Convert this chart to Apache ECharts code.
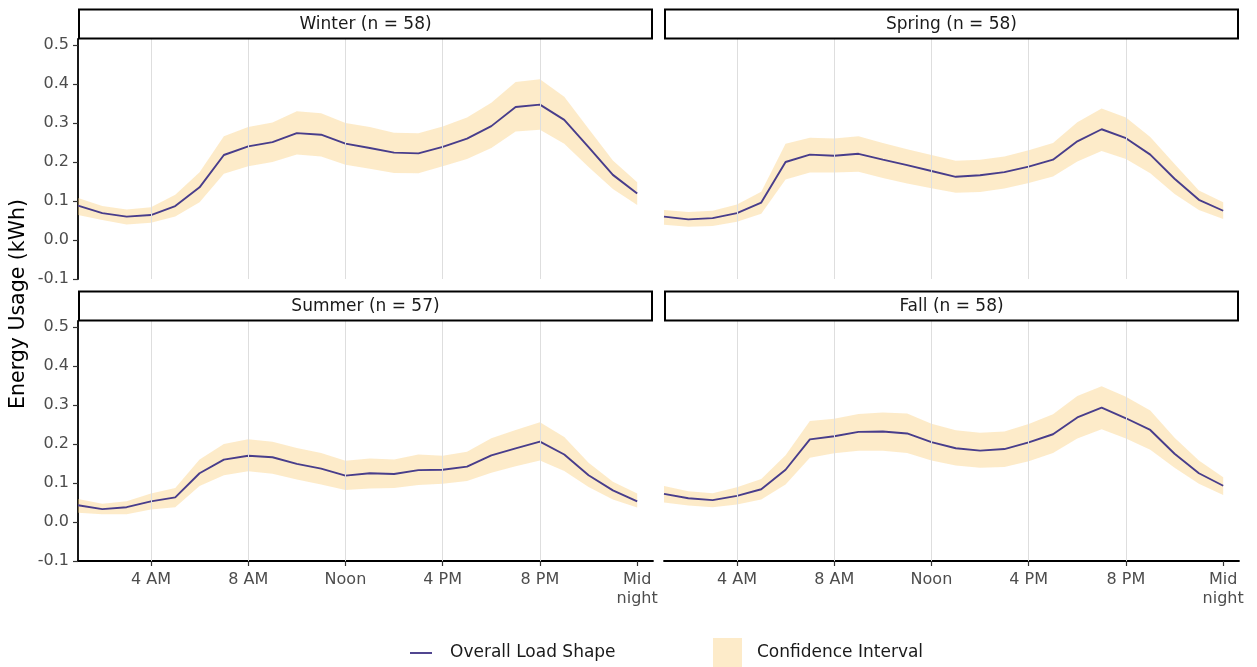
<!DOCTYPE html>
<html>
<head>
<meta charset="utf-8">
<title>Seasonal Load Shapes</title>
<script src="https://cdn.jsdelivr.net/npm/echarts@6/dist/echarts.min.js"></script>
<style>
  html, body { margin: 0; padding: 0; background: #ffffff; }
  #chart { width: 1257px; height: 667px; }
</style>
</head>
<body>
<div id="chart"></div>
<script>
// Hour of day (1 = 1 AM ... 24 = midnight)
const hours = [1,2,3,4,5,6,7,8,9,10,11,12,13,14,15,16,17,18,19,20,21,22,23,24];

const hourTicks = [4, 8, 12, 16, 20, 24];
const hourTickLabels = ['4 AM', '8 AM', 'Noon', '4 PM', '8 PM', 'Mid\nnight'];
const usageTicks = [-0.1, 0.0, 0.1, 0.2, 0.3, 0.4, 0.5];

const panelTitles = ['Winter (n = 58)', 'Spring (n = 58)', 'Summer (n = 57)', 'Fall (n = 58)'];

// Mean hourly usage (kWh) with confidence bounds, per season
const winterMean  = [0.088,0.069,0.060,0.064,0.087,0.135,0.218,0.240,0.251,0.274,0.270,0.247,0.236,0.224,0.222,0.239,0.260,0.292,0.341,0.347,0.308,0.238,0.167,0.119];
const winterUpper = [0.108,0.087,0.078,0.084,0.116,0.174,0.266,0.290,0.301,0.330,0.325,0.300,0.290,0.275,0.274,0.291,0.314,0.352,0.405,0.412,0.367,0.285,0.204,0.148];
const winterLower = [0.064,0.051,0.040,0.044,0.060,0.097,0.170,0.189,0.200,0.219,0.214,0.193,0.183,0.172,0.171,0.189,0.208,0.236,0.278,0.283,0.247,0.187,0.131,0.090];

const springMean  = [0.060,0.053,0.056,0.069,0.096,0.200,0.219,0.216,0.221,0.206,0.192,0.177,0.162,0.166,0.174,0.188,0.206,0.253,0.284,0.261,0.219,0.157,0.103,0.075];
const springUpper = [0.077,0.072,0.075,0.091,0.124,0.247,0.262,0.260,0.266,0.249,0.233,0.218,0.203,0.206,0.214,0.230,0.249,0.302,0.337,0.314,0.264,0.195,0.127,0.097];
const springLower = [0.039,0.034,0.036,0.047,0.067,0.155,0.173,0.173,0.175,0.159,0.145,0.133,0.121,0.123,0.132,0.146,0.163,0.201,0.228,0.208,0.171,0.118,0.077,0.054];

const summerMean  = [0.043,0.033,0.038,0.053,0.063,0.125,0.160,0.170,0.166,0.149,0.137,0.119,0.125,0.123,0.133,0.134,0.142,0.171,0.189,0.206,0.173,0.120,0.081,0.053];
const summerUpper = [0.059,0.047,0.053,0.073,0.087,0.160,0.200,0.212,0.206,0.190,0.177,0.157,0.163,0.160,0.173,0.170,0.180,0.215,0.236,0.256,0.218,0.152,0.103,0.073];
const summerLower = [0.024,0.020,0.020,0.032,0.038,0.092,0.120,0.130,0.124,0.109,0.096,0.082,0.086,0.087,0.095,0.098,0.105,0.126,0.143,0.158,0.131,0.090,0.058,0.037];

const fallMean  = [0.072,0.061,0.056,0.067,0.084,0.134,0.212,0.220,0.231,0.232,0.227,0.205,0.189,0.183,0.187,0.204,0.225,0.268,0.293,0.266,0.236,0.175,0.125,0.093];
const fallUpper = [0.092,0.079,0.074,0.089,0.110,0.171,0.259,0.265,0.277,0.281,0.278,0.252,0.235,0.229,0.232,0.251,0.276,0.323,0.348,0.321,0.286,0.216,0.158,0.115];
const fallLower = [0.050,0.042,0.038,0.045,0.058,0.096,0.165,0.176,0.183,0.183,0.177,0.158,0.145,0.139,0.141,0.156,0.177,0.214,0.238,0.214,0.185,0.139,0.098,0.069];

const seasons = [
  { mean: winterMean, upper: winterUpper, lower: winterLower },
  { mean: springMean, upper: springUpper, lower: springLower },
  { mean: summerMean, upper: summerUpper, lower: summerLower },
  { mean: fallMean,   upper: fallUpper,   lower: fallLower }
];

const FONT = 'DejaVu Sans';
const LINE_COLOR = '#483D8B';
const BAND_COLOR = 'rgba(251,205,120,0.4)';
const BAND_SWATCH = '#FDEBC9';
const GRID_COLOR = '#DEDEDE';
const TEXT_GRAY = '#4D4D4D';

// 2 x 2 facet layout
const colLeft = [78, 664];
const rowTop = [39, 321];
const panelW = 575;
const panelH = 240;
const stripH = 29;

const grids = [], xAxes = [], yAxes = [], series = [], graphics = [];

seasons.forEach((s, i) => {
  const col = i % 2, row = Math.floor(i / 2);
  const isBottom = row === 1, isLeft = col === 0;

  grids.push({ left: colLeft[col], top: rowTop[row], width: panelW, height: panelH });

  xAxes.push({
    gridIndex: i, type: 'value', min: 1, max: 24.65,
    axisLine: { show: isBottom, onZero: false, lineStyle: { color: '#000', width: 1.8 } },
    axisTick: { show: isBottom, customValues: hourTicks, length: 5, lineStyle: { color: '#333', width: 1.2 } },
    axisLabel: {
      show: isBottom, customValues: hourTicks, margin: 9,
      color: TEXT_GRAY, fontFamily: FONT, fontSize: 16, lineHeight: 19,
      formatter: v => hourTickLabels[hourTicks.indexOf(Math.round(v))] || ''
    },
    splitLine: { show: false }
  });

  yAxes.push({
    gridIndex: i, type: 'value', min: -0.1, max: 0.5154,
    axisLine: { show: isLeft, onZero: false, lineStyle: { color: '#000', width: 1.8 } },
    axisTick: { show: isLeft, customValues: usageTicks, length: 5, lineStyle: { color: '#333', width: 1.2 } },
    axisLabel: {
      show: isLeft, customValues: usageTicks, margin: 9,
      color: TEXT_GRAY, fontFamily: FONT, fontSize: 16,
      formatter: v => Number(v).toFixed(1)
    },
    splitLine: { show: false }
  });

  // vertical reference lines at the labelled hours
  series.push({
    type: 'line', xAxisIndex: i, yAxisIndex: i, data: [], z: 1, silent: true,
    markLine: {
      silent: true, symbol: ['none', 'none'], label: { show: false },
      lineStyle: { color: GRID_COLOR, width: 1, type: 'solid' },
      emphasis: { disabled: true },
      data: hourTicks.slice(0, 5).map(h => ({ xAxis: h }))
    }
  });

  // confidence band drawn as one polygon: upper edge left-to-right, lower edge back
  series.push({
    name: 'Confidence Interval', type: 'custom', xAxisIndex: i, yAxisIndex: i,
    z: 2, silent: true,
    data: hours.map((h, k) => [h, s.lower[k], s.upper[k]]),
    encode: { x: 0, y: [1, 2] },
    renderItem: (params, api) => {
      if (params.dataIndex !== 0) return null;
      const top = hours.map((h, k) => api.coord([h, s.upper[k]]));
      const bottom = hours.map((h, k) => api.coord([h, s.lower[k]])).reverse();
      return {
        type: 'polygon',
        shape: { points: top.concat(bottom) },
        style: { fill: BAND_COLOR, stroke: null }
      };
    }
  });

  // mean load shape
  series.push({
    name: 'Overall Load Shape', type: 'line', xAxisIndex: i, yAxisIndex: i,
    symbol: 'none', z: 3, silent: true,
    lineStyle: { color: LINE_COLOR, width: 1.9 },
    data: hours.map((h, k) => [h, s.mean[k]])
  });

  // facet strip
  const sx = colLeft[col] + 1, sy = rowTop[row] - stripH - 0.5;
  graphics.push({
    type: 'rect', silent: true, z: 10,
    shape: { x: sx, y: sy, width: panelW - 2, height: stripH },
    style: { fill: '#FFFFFF', stroke: '#000000', lineWidth: 2 }
  });
  graphics.push({
    type: 'text', silent: true, z: 11,
    x: colLeft[col] + panelW / 2, y: sy + stripH / 2 + 0.5,
    style: {
      text: panelTitles[i], fill: '#1A1A1A', font: '17px "' + FONT + '"',
      textAlign: 'center', textVerticalAlign: 'middle'
    }
  });
});

// shared y-axis title
graphics.push({
  type: 'text', silent: true, x: 19, y: 304, rotation: Math.PI / 2,
  style: {
    text: 'Energy Usage (kWh)', fill: '#000000', font: '20.5px "' + FONT + '"',
    textAlign: 'center', textVerticalAlign: 'middle'
  }
});

// legend
graphics.push({
  type: 'line', silent: true,
  shape: { x1: 410, y1: 653, x2: 432, y2: 653 },
  style: { stroke: LINE_COLOR, lineWidth: 1.9 }
});
graphics.push({
  type: 'text', silent: true, x: 450, y: 653,
  style: { text: 'Overall Load Shape', fill: '#1A1A1A', font: '17px "' + FONT + '"', textVerticalAlign: 'middle' }
});
graphics.push({
  type: 'rect', silent: true,
  shape: { x: 713, y: 638, width: 29, height: 29 },
  style: { fill: BAND_SWATCH }
});
graphics.push({
  type: 'text', silent: true, x: 757, y: 653,
  style: { text: 'Confidence Interval', fill: '#1A1A1A', font: '17px "' + FONT + '"', textVerticalAlign: 'middle' }
});

const chart = echarts.init(document.getElementById('chart'), null, { renderer: 'canvas' });
chart.setOption({
  animation: false,
  backgroundColor: '#FFFFFF',
  textStyle: { fontFamily: FONT },
  grid: grids,
  xAxis: xAxes,
  yAxis: yAxes,
  series: series,
  graphic: graphics
});
</script>
</body>
</html>
